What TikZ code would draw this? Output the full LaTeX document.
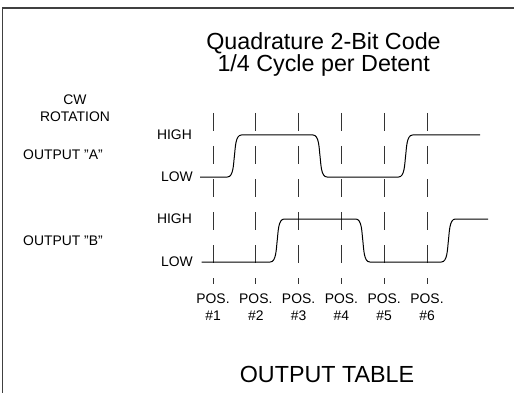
\documentclass[tikz,border=0pt]{standalone}
\usepackage{fontspec}
\setmainfont{Liberation Sans}
\usetikzlibrary{positioning}

% one logic edge of a waveform: centre x, level before, level after
\newcommand{\logicedge}[3]{-- ({#1-7},#2)
    .. controls ({#1-1},#2) and ({#1-1},{#2+0.3*(#3-#2)}) .. (#1,{(#2+#3)/2})
    .. controls ({#1+1},{#3-0.3*(#3-#2)}) and ({#1+1},#3) .. ({#1+7},#3)}

\begin{document}
\begin{tikzpicture}[
    x=1pt, y=-1pt,
    frame/.style={
        draw=black!75,
        line width=1.5pt
    },
    guide/.style={
        draw=black!80,
        line width=0.9pt,
        dash pattern=on 18pt off 15pt
    },
    wave/.style={
        draw=black,
        line width=1pt,
        line join=round
    },
    small/.style={
        font=\fontsize{13.9}{16.7}\selectfont,
        inner sep=0pt,
        align=center
    },
    big/.style={
        font=\fontsize{23.3}{21.7}\selectfont,
        inner sep=0pt
    }
]

\useasboundingbox (0,0) rectangle (514,393);

\draw[frame] (2.5,393) -- (2.5,8) -- (514,8);

\node[big, anchor=base] (title) at (323.5,50) {Quadrature 2-Bit Code};
\node[big, anchor=base] (subtitle) at (323.7,71.7) {1/4 Cycle per Detent};

\node[small] (cw) at (75,108) {CW\\ROTATION};

\node[small, anchor=west] (outa) at (23,155) {OUTPUT "A"};
\node[small, anchor=west] (outb) at (23,241) {OUTPUT "B"};

% level marks
\coordinate (aHigh) at (200,135);
\coordinate (aLow) at (200,177);
\coordinate (bHigh) at (201.5,219);
\coordinate (bLow) at (201.5,262);

\node[small, left=8pt of aHigh] (ahighlabel) {HIGH};
\node[small, left=7pt of aLow] (alowlabel) {LOW};
\node[small, left=9.5pt of bHigh] (bhighlabel) {HIGH};
\node[small, left=8.5pt of bLow] (blowlabel) {LOW};

% detent positions
\foreach \i in {1,...,6} {
    \pgfmathsetmacro{\px}{213+42.8*(\i-1)}
    \draw[guide] (\px,113) coordinate (top\i) -- (\px,284) coordinate (pos\i);
    \node[small, below=9.5pt of pos\i] (poslabel\i) {POS.\\\#\i};
}

% output A
\draw[wave] (aLow) \logicedge{234.4}{177}{135} \logicedge{320}{135}{177}
    \logicedge{405.6}{177}{135} -- (480,135) coordinate (aEnd);

% output B
\draw[wave] (bLow) \logicedge{277.2}{262}{219} \logicedge{362.8}{219}{262}
    \logicedge{448.4}{262}{219} -- (488,219) coordinate (bEnd);

\node[big, anchor=base] (table) at (327,382) {OUTPUT TABLE};

\end{tikzpicture}
\end{document}
